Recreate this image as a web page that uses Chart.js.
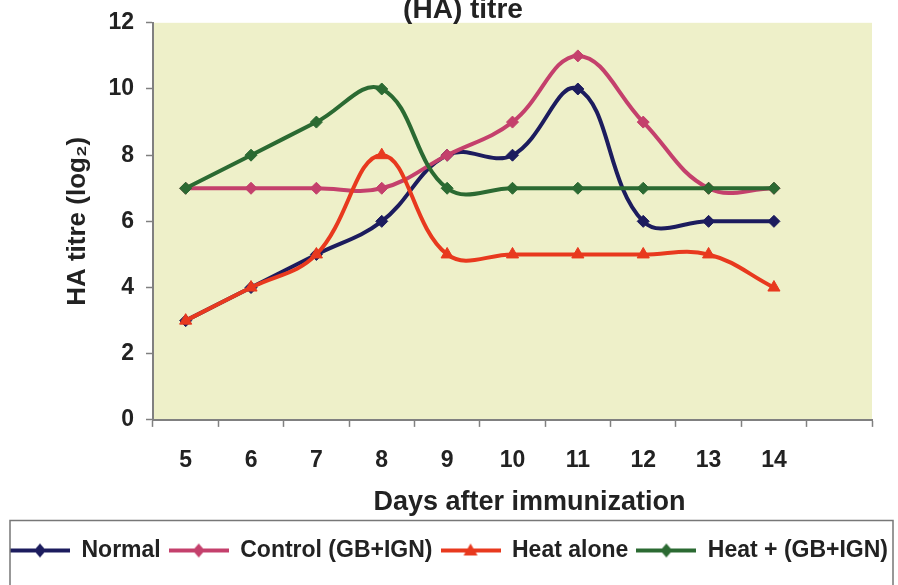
<!DOCTYPE html>
<html>
<head>
<meta charset="utf-8">
<script src="https://cdn.jsdelivr.net/npm/chart.js@4/dist/chart.umd.min.js"></script>
<style>
  html, body { margin: 0; padding: 0; background: #ffffff; }
  #wrap { width: 898px; height: 585px; }
</style>
</head>
<body>
<div id="wrap"><canvas id="c" width="898" height="585"></canvas></div>
<script>
// ---- data ----
const categories = ['5', '6', '7', '8', '9', '10', '11', '12', '13', '14', ''];
const normal     = [3, 4, 5, 6, 8, 8, 10, 6, 6, 6, null];
const control    = [7, 7, 7, 7, 8, 9, 11, 9, 7, 7, null];
const heatAlone  = [3, 4, 5, 8, 5, 5, 5, 5, 5, 4, null];
const heatPlus   = [7, 8, 9, 10, 7, 7, 7, 7, 7, 7, null];
const seriesNames = ['Normal', 'Control (GB+IGN)', 'Heat alone', 'Heat + (GB+IGN)'];
const yMin = 0, yMax = 12, yStep = 2;
const chartTitle = '(HA) titre';
const xTitle = 'Days after immunization';
const yTitle = 'HA titre (log\u2082)';

const FONT = '"Liberation Sans", Arial, sans-serif';
const TEXT = '#222222';
const AXIS = '#808080';
const X_TITLE_SIZE = 27;
const X_TITLE_PAD_BOTTOM = 12.5;
const X_TITLE_BLOCK = 36.5; // space reserved below tick labels for the x title

function makeSample(color, style) {
  const c = document.createElement('canvas');
  c.width = 60; c.height = 18;
  const g = c.getContext('2d');
  g.strokeStyle = color; g.lineWidth = 4;
  g.beginPath(); g.moveTo(0, 9); g.lineTo(60, 9); g.stroke();
  g.fillStyle = color;
  g.beginPath();
  if (style === 'triangle') {
    g.moveTo(30, 2); g.lineTo(37, 14); g.lineTo(23, 14);
  } else {
    g.moveTo(30, 2); g.lineTo(36, 9); g.lineTo(30, 16); g.lineTo(24, 9);
  }
  g.closePath(); g.fill();
  return c;
}

const bgPlugin = {
  id: 'bg',
  beforeDraw(chart) {
    const {ctx, chartArea: a} = chart;
    ctx.save();
    ctx.fillStyle = '#ffffff';
    ctx.fillRect(0, 0, chart.width, chart.height);
    ctx.fillStyle = '#eef0c9';
    ctx.fillRect(a.left, a.top, a.right - a.left, a.bottom - a.top);
    ctx.restore();
  },
  afterDraw(chart) {
    const {ctx} = chart;
    const lg = chart.legend;
    const sx = chart.scales.x;
    ctx.save();
    // legend frame
    ctx.strokeStyle = '#777777';
    ctx.lineWidth = 1.5;
    const top = lg.top - 10.5;
    ctx.beginPath();
    ctx.moveTo(10, chart.height + 5);
    ctx.lineTo(10, top);
    ctx.lineTo(893, top);
    ctx.lineTo(893, chart.height + 5);
    ctx.stroke();
    ctx.fillStyle = TEXT;
    ctx.textAlign = 'center';
    ctx.textBaseline = 'middle';
    // x axis title (sits a little right of the axis centre in the reference)
    ctx.font = 'bold ' + X_TITLE_SIZE + 'px ' + FONT;
    ctx.fillText(xTitle, (sx.left + sx.right) / 2 + 17, sx.bottom - X_TITLE_PAD_BOTTOM - X_TITLE_SIZE * 0.6);
    // chart title (its first line is cut off in the reference)
    ctx.font = 'bold 28px ' + FONT;
    ctx.fillText(chartTitle, 463, 10);
    ctx.restore();
  }
};

const colors = ['#1c1c5e', '#c4406c', '#e8391e', '#2b6a32'];
const styles = ['rectRot', 'rectRot', 'triangle', 'rectRot'];
const values = [normal, control, heatAlone, heatPlus];

const datasets = values.map((v, i) => ({
  label: seriesNames[i],
  data: v,
  borderColor: colors[i],
  backgroundColor: colors[i],
  pointBackgroundColor: colors[i],
  pointBorderColor: colors[i],
  pointStyle: styles[i],
  pointRadius: styles[i] === 'triangle' ? 7 : 6,
  pointBorderWidth: 1,
  borderWidth: 4,
  tension: 0.4,
  spanGaps: false,
  order: 3 - i
}));

new Chart(document.getElementById('c'), {
  type: 'line',
  data: { labels: categories, datasets },
  plugins: [bgPlugin],
  options: {
    responsive: false,
    animation: false,
    layout: { padding: { top: 22, bottom: 13, left: 0, right: 0 } },
    plugins: {
      title: { display: false },
      tooltip: { enabled: false },
      legend: {
        display: true,
        position: 'bottom',
        labels: {
          usePointStyle: true,
          pointStyleWidth: 60,
          padding: 8,
          color: TEXT,
          font: { family: FONT, size: 23, weight: 'bold' },
          generateLabels(chart) {
            return chart.data.datasets.map((ds, i) => ({
              text: ds.label,
              pointStyle: makeSample(ds.borderColor, ds.pointStyle),
              fillStyle: ds.borderColor,
              strokeStyle: ds.borderColor,
              lineWidth: 0,
              fontColor: TEXT,
              hidden: !chart.isDatasetVisible(i),
              datasetIndex: i
            }));
          }
        }
      }
    },
    scales: {
      x: {
        type: 'category',
        offset: true,
        grid: { display: true, offset: true, drawOnChartArea: false, drawTicks: true, tickLength: 7, color: AXIS, tickWidth: 1.5 },
        border: { display: true, color: AXIS, width: 2 },
        ticks: { color: TEXT, padding: 20, font: { family: FONT, size: 23, weight: 'bold' }, maxRotation: 0, autoSkip: false },
        title: { display: false },
        afterFit(s) { s.height += X_TITLE_BLOCK; }
      },
      y: {
        position: 'left',
        min: yMin, max: yMax,
        grid: { display: true, drawOnChartArea: false, drawTicks: true, tickLength: 7, color: AXIS, tickWidth: 1.5 },
        border: { display: true, color: AXIS, width: 2 },
        ticks: { stepSize: yStep, color: TEXT, padding: 12, font: { family: FONT, size: 23, weight: 'bold', lineHeight: 0.94 } },
        title: { display: true, text: yTitle, color: TEXT, font: { family: FONT, size: 26, weight: 'bold' }, padding: { top: 62, bottom: 3.2 } }
      },
      yR: {
        position: 'right',
        display: true,
        min: yMin, max: yMax,
        grid: { display: false, drawTicks: false },
        border: { display: false },
        ticks: { display: false },
        afterFit(s) { s.width = 26; }
      }
    }
  }
});
</script>
</body>
</html>
